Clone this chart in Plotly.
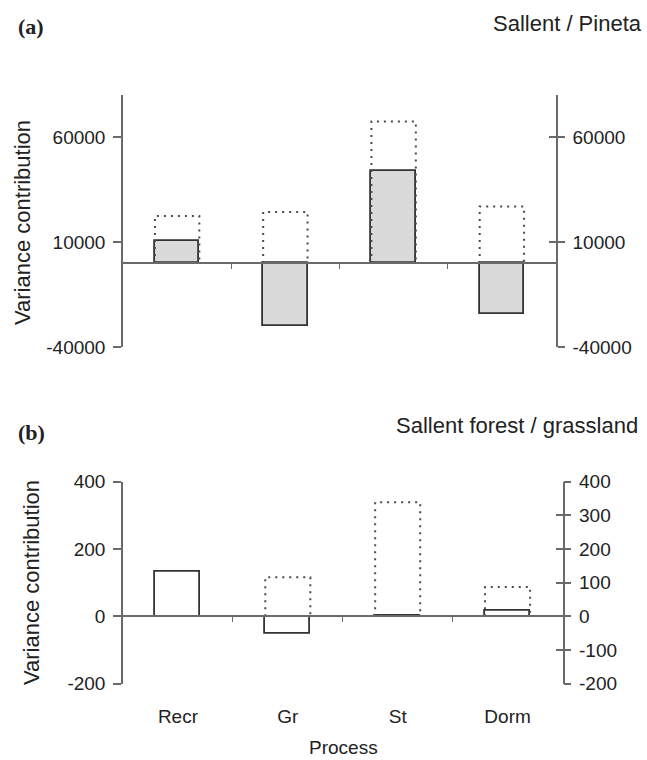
import plotly.graph_objects as go

# ---------------- data ----------------
categories = ["Recr", "Gr", "St", "Dorm"]

# panel (a) Sallent / Pineta
a_solid = [10300, -30100, 43900, -24100]
a_dotted = [22400, 24300, 67400, 26900]
a_ticks = [60000, 10000, -40000]
a_range = [-40000, 80000]

# panel (b) Sallent forest / grassland
b_solid = [133, -53, 3, 15]
b_dotted = [None, 116, 339, 87]
b_ticks_left = [400, 200, 0, -200]
b_ticks_right = [400, 300, 200, 100, 0, -100, -200]
b_range = [-200, 400]

# ---------------- layout geometry ----------------
W, H = 647, 760
FONT = "Liberation Sans, Arial, sans-serif"
AX = "#6a6a6a"
BAR_LINE = "#333333"
DOT = "#4a4a4a"
BW = 0.41


def px(x):
    return x / W


def py(y):
    return 1 - y / H


xa = [px(123), px(556)]
ya = [py(347), py(95)]
xb = [px(123), px(562.5)]
yb = [py(683.5), py(481.7)]

idx = list(range(len(categories)))
bounds = [i + 0.5 for i in idx[:-1]]


def zero_pos(dom, rng):
    return dom[0] + (0 - rng[0]) / (rng[1] - rng[0]) * (dom[1] - dom[0])


def dotted_path(values):
    xs, ys = [], []
    for i, v in zip(idx, values):
        if v is None:
            continue
        x0, x1 = i - BW / 2, i + BW / 2
        xs += [x0, x0, x1, x1, None]
        ys += [0, v, v, 0, None]
    return xs, ys


def labels(vals):
    return [str(v) for v in vals]


def ghost(xax, yax, ys):
    # invisible carrier so that overlay axes get drawn
    return go.Scatter(x=idx, y=ys, xaxis=xax, yaxis=yax, mode="markers",
                      marker=dict(opacity=0), hoverinfo="skip", showlegend=False)


fig = go.Figure()

# panel (a)
dx, dy = dotted_path(a_dotted)
fig.add_trace(go.Bar(x=idx, y=a_solid, width=BW, xaxis="x", yaxis="y",
                     marker=dict(color="#dadada", line=dict(color=BAR_LINE, width=1.8)),
                     showlegend=False))
fig.add_trace(go.Scatter(x=dx, y=dy, mode="lines", xaxis="x", yaxis="y",
                         line=dict(color=DOT, width=2, dash="2px,5px"),
                         showlegend=False))
fig.add_trace(ghost("x", "y2", a_solid))
fig.add_trace(ghost("x", "y3", a_solid))

# panel (b)
dx, dy = dotted_path(b_dotted)
fig.add_trace(go.Bar(x=idx, y=b_solid, width=BW, xaxis="x2", yaxis="y4",
                     marker=dict(color="white", line=dict(color=BAR_LINE, width=1.8)),
                     showlegend=False))
fig.add_trace(go.Scatter(x=dx, y=dy, mode="lines", xaxis="x2", yaxis="y4",
                         line=dict(color=DOT, width=2, dash="2px,5px"),
                         showlegend=False))
fig.add_trace(ghost("x2", "y5", b_solid))
fig.add_trace(ghost("x2", "y6", b_solid))
fig.add_trace(ghost("x3", "y4", b_solid))

tickfont = dict(family=FONT, size=19, color="#222")
xrange = [-0.5, len(categories) - 0.5]

common_x = dict(range=xrange, showgrid=False, zeroline=False, showline=True,
                linecolor=AX, linewidth=1.5, tickvals=bounds, ticks="outside",
                ticklen=5, tickwidth=1.2, tickcolor=AX, showticklabels=False,
                anchor="free", fixedrange=True, automargin=False)
common_y = dict(showgrid=False, zeroline=False, linecolor=AX,
                linewidth=1.5, tickcolor=AX, tickwidth=1.5, tickfont=tickfont,
                fixedrange=True, automargin=False)

fig.update_layout(
    template="none",
    width=W, height=H, autosize=False,
    margin=dict(l=0, r=0, t=0, b=0, pad=0, autoexpand=False),
    paper_bgcolor="white", plot_bgcolor="rgba(0,0,0,0)",
    bargap=0, showlegend=False,
    xaxis=dict(domain=xa, position=zero_pos(ya, a_range), **common_x),
    yaxis=dict(domain=ya, range=a_range, anchor="x", tickvals=a_ticks,
               ticktext=labels(a_ticks), showline=True,
               ticks="outside", ticklen=8, ticklabelstandoff=4, **common_y),
    yaxis2=dict(domain=ya, range=a_range, anchor="x", overlaying="y", side="right",
                tickvals=a_ticks, ticktext=labels(a_ticks), showline=True,
                ticks="outside", ticklen=7, ticklabelstandoff=4, **common_y),
    yaxis3=dict(domain=ya, range=a_range, anchor="x", overlaying="y", side="right",
                tickvals=a_ticks, ticks="inside", ticklen=7, showticklabels=False,
                showline=False, **common_y),
    xaxis2=dict(domain=xb, position=zero_pos(yb, b_range), **common_x),
    xaxis3=dict(domain=xb, range=xrange, overlaying="x2", anchor="y4", side="bottom",
                tickvals=idx, ticktext=categories, ticks="outside", ticklen=16,
                tickcolor="rgba(0,0,0,0)", showline=False, showgrid=False,
                zeroline=False, tickfont=dict(family=FONT, size=19, color="#222"),
                fixedrange=True, automargin=False),
    yaxis4=dict(domain=yb, range=b_range, anchor="x2", tickvals=b_ticks_left,
                ticktext=labels(b_ticks_left), showline=True,
                ticks="outside", ticklen=8, ticklabelstandoff=4, **common_y),
    yaxis5=dict(domain=yb, range=b_range, anchor="x2", overlaying="y4", side="right",
                tickvals=b_ticks_right, ticktext=labels(b_ticks_right), showline=True,
                ticks="outside", ticklen=7, ticklabelstandoff=4, **common_y),
    yaxis6=dict(domain=yb, range=b_range, anchor="x2", overlaying="y4", side="right",
                tickvals=b_ticks_right, ticks="inside", ticklen=7,
                showticklabels=False, showline=False, **common_y),
)

title_font = dict(family=FONT, size=22, color="#222")
label_font = dict(family="Liberation Serif, Times New Roman, serif", size=22, color="#222")
ann = [
    dict(text="<b>(a)</b>", x=px(16), y=py(27), xanchor="left", yanchor="middle", font=label_font),
    dict(text="Sallent / Pineta", x=px(644), y=py(24), xanchor="right", yanchor="middle", font=title_font),
    dict(text="<b>(b)</b>", x=px(16), y=py(432), xanchor="left", yanchor="middle", font=label_font),
    dict(text="Sallent forest / grassland", x=px(640), y=py(425), xanchor="right", yanchor="middle", font=title_font),
    dict(text="Variance contribution", x=px(22), y=py(223), textangle=-90,
         xanchor="center", yanchor="middle", font=dict(family=FONT, size=22, color="#222")),
    dict(text="Variance contribution", x=px(31), y=py(583), textangle=-90,
         xanchor="center", yanchor="middle", font=dict(family=FONT, size=22, color="#222")),
    dict(text="Process", x=px(343), y=py(759), xanchor="center", yanchor="bottom",
         borderpad=0, font=dict(family=FONT, size=19, color="#222")),
]
for a in ann:
    a.update(xref="paper", yref="paper", showarrow=False)
fig.update_layout(annotations=ann)

fig.write_html("out.html", config={"displayModeBar": False},
               post_script="document.body.style.margin='0';document.body.style.padding='0';")
